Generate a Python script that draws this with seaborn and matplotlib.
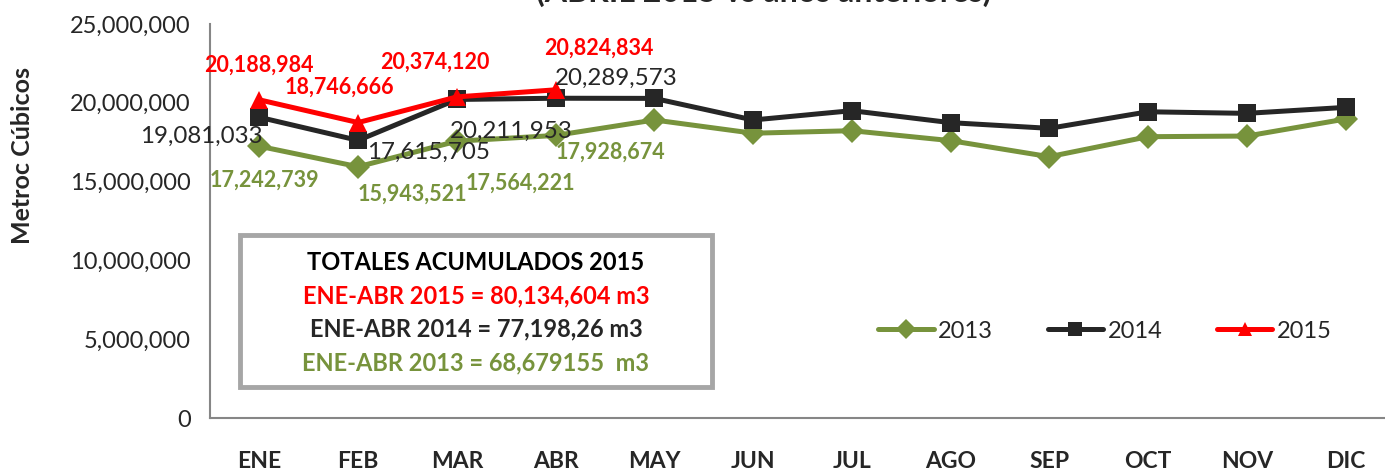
import pandas as pd
import numpy as np
import matplotlib
matplotlib.use("Agg")
import matplotlib.pyplot as plt
import seaborn as sns

# data
meses = ['ENE', 'FEB', 'MAR', 'ABR', 'MAY', 'JUN', 'JUL', 'AGO', 'SEP', 'OCT', 'NOV', 'DIC']
v2013 = [17242739, 15943521, 17564221, 17928674, 18910000, 18070000,
         18230000, 17600000, 16580000, 17850000, 17890000, 18970000]
v2014 = [19081033, 17615705, 20211953, 20289573, 20280000, 18910000,
         19500000, 18740000, 18380000, 19430000, 19330000, 19710000]
v2015 = [20188984, 18746666, 20374120, 20824834]
anios = ['2013', '2014', '2015']
totales = ['TOTALES ACUMULADOS 2015',
           'ENE-ABR 2015 = 80,134,604 m3',
           'ENE-ABR 2014 = 77,198,26 m3',
           'ENE-ABR 2013 = 68,679155  m3']

colores = {'2013': '#77933C', '2014': '#262626', '2015': '#FF0000'}
marcas = {'2013': 'D', '2014': 's', '2015': '^'}

rows = []
for anio, vals in zip(anios, [v2013, v2014, v2015]):
    for i, v in enumerate(vals):
        rows.append({'mes': i, 'valor': v, 'anio': anio})
df = pd.DataFrame(rows)

sns.set_style('white')
plt.rcParams['font.family'] = ['Lato', 'DejaVu Sans']

fig = plt.figure(figsize=(13.85, 4.73), dpi=100)
ax = fig.add_axes([210 / 1385, 55 / 473, 1175 / 1385, 394 / 473])

sns.lineplot(data=df, x='mes', y='valor', hue='anio', style='anio',
             palette=colores, markers=marcas, dashes=False, sort=False,
             linewidth=3.6, markersize=12.5, markeredgewidth=0, ax=ax)

ax.set_xlim(-0.5, 11.4)
ax.set_ylim(0, 25000000)
ax.set_xticks(range(12))
ax.set_xticklabels(meses, fontsize=16.5, fontweight='bold')
ax.set_yticks(range(0, 25000001, 5000000))
ax.set_yticklabels([f'{t:,}' for t in range(0, 25000001, 5000000)], fontsize=17)
ax.tick_params(axis='x', pad=24, length=0)
ax.tick_params(axis='y', pad=14, length=0)
ax.set_xlabel('')
ax.set_ylabel('')
for s in ['top', 'right']:
    ax.spines[s].set_visible(False)
for s in ['left', 'bottom']:
    ax.spines[s].set_color('#868686')
    ax.spines[s].set_linewidth(1.5)

fig.text(23 / 1385, 1 - 155 / 473, 'Metroc Cúbicos', rotation=90, ha='center',
         va='center', fontsize=18, fontweight='bold')

# title mostly cut off at the top of the image
fig.text(764 / 1385, 1 - 2 / 473, '(ABRIL 2015 vs años anteriores)', ha='center',
         va='baseline', fontsize=23, fontweight='bold')

# data labels (offsets in pixels)
off2015 = [(0, 35), (-19, 35), (-22, 35), (43, 42)]
off2014 = [(-58, -19), (70, -12), (54, -32), (61, 20)]
off2013 = [(5, -34), (54, -27), (64, -42), (55, -17)]
for i in range(4):
    ax.annotate(f'{v2015[i]:,}', (i, v2015[i]), xytext=off2015[i], textcoords='offset pixels',
                ha='center', va='center', fontsize=15.5, fontweight='bold', color=colores['2015'])
    ax.annotate(f'{v2014[i]:,}', (i, v2014[i]), xytext=off2014[i], textcoords='offset pixels',
                ha='center', va='center', fontsize=17.4, color=colores['2014'])
    ax.annotate(f'{v2013[i]:,}', (i, v2013[i]), xytext=off2013[i], textcoords='offset pixels',
                ha='center', va='center', fontsize=15.5, fontweight='bold', color=colores['2013'])

# totals box
box = plt.Rectangle((240 / 1385, 1 - 387 / 473), 472 / 1385, 152 / 473, transform=fig.transFigure,
                    facecolor='white', edgecolor='#A6A6A6', linewidth=3.5, zorder=5)
fig.add_artist(box)
cols_box = ['black', colores['2015'], colores['2014'], colores['2013']]
for k, (txt, c) in enumerate(zip(totales, cols_box)):
    fig.text(476 / 1385, 1 - (262 + 33.5 * k) / 473, txt, ha='center', va='center',
             fontsize=17, fontweight='bold', color=c, zorder=6)

# legend
h, l = ax.get_legend_handles_labels()
for hd in h:
    hd.set_markersize(10)
ax.legend(h, l, ncol=3, frameon=False, fontsize=17, loc='center',
          bbox_to_anchor=(1105 / 1385, 1 - 331 / 473), bbox_transform=fig.transFigure,
          handlelength=2.35, columnspacing=2.3, handletextpad=0.2)

fig.savefig('out.png', dpi=100)
